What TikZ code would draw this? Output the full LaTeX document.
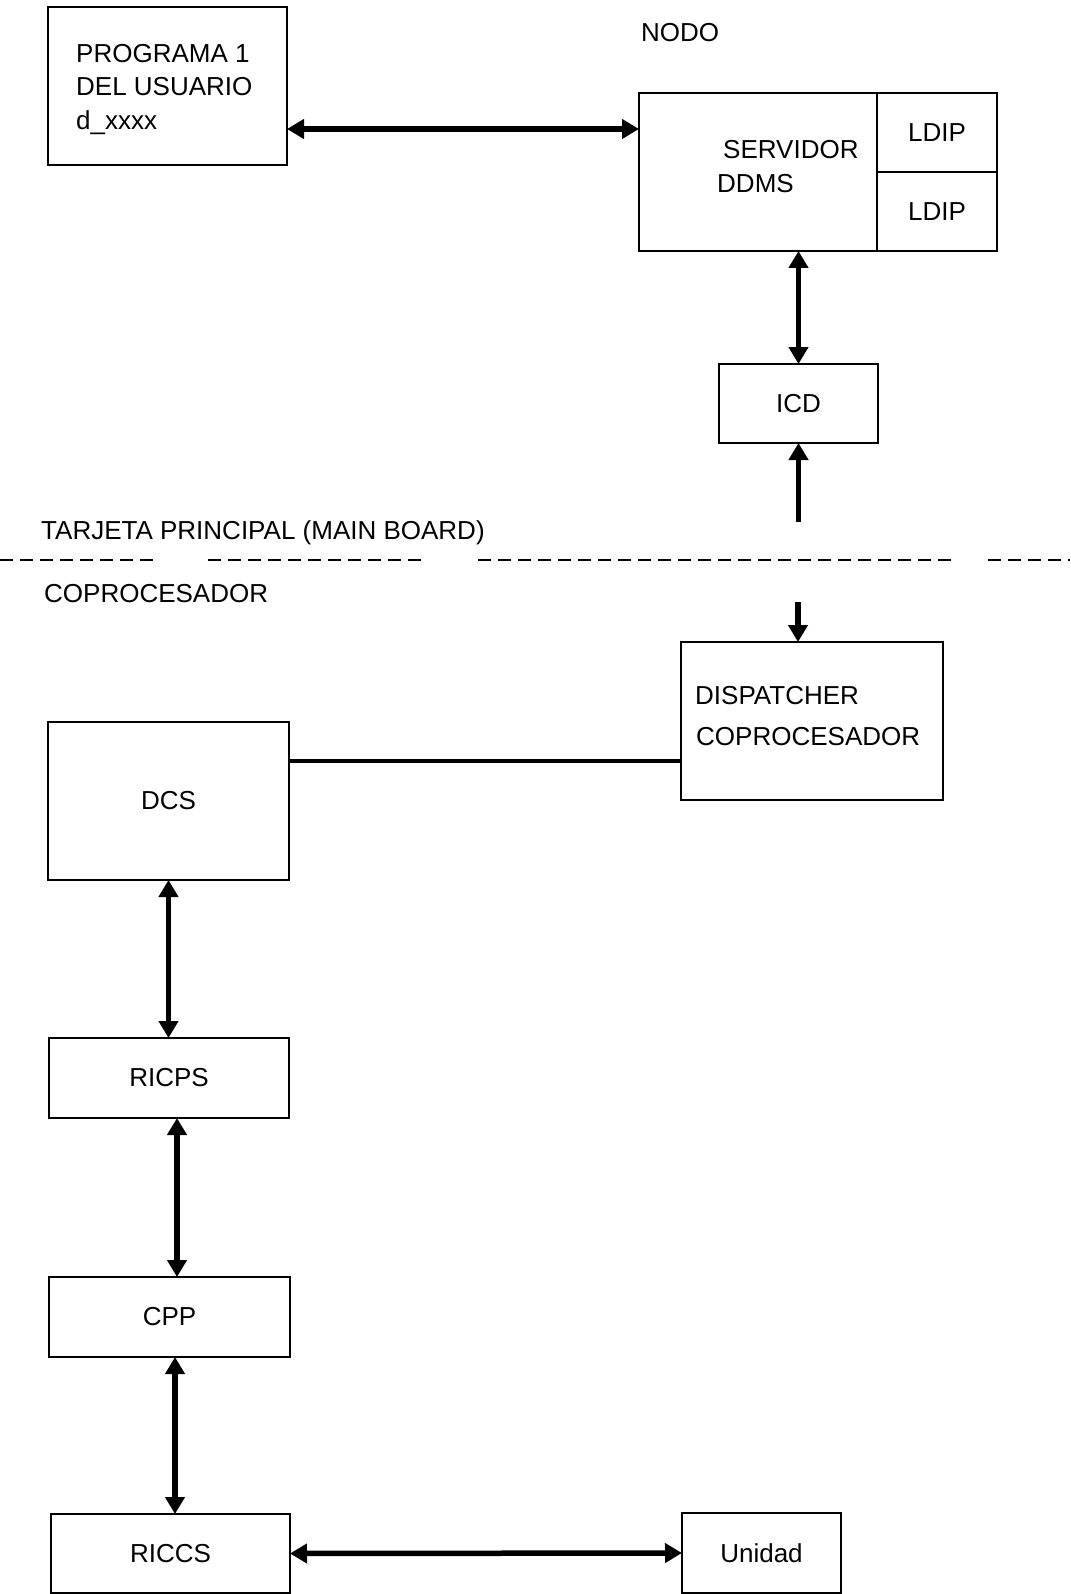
\documentclass[tikz,border=0pt]{standalone}
\usepackage{fontspec}
\setmainfont{Liberation Sans}
\usetikzlibrary{arrows.meta}
\begin{document}
\begin{tikzpicture}[x=1pt, y=-1pt,
  font=\fontsize{26}{31}\selectfont,
  box/.style={draw, line width=1.6pt, inner sep=0pt, outer sep=0pt},
  label/.style={inner sep=0pt, anchor=base west},
  flow/.style={line width=5.5pt, -{Triangle[length=17pt,width=19pt]}},
  biflow/.style={line width=5.5pt, {Triangle[length=17pt,width=19pt]}-{Triangle[length=17pt,width=19pt]}},
  plainlink/.style={line width=4.5pt},
  boundary/.style={line width=2pt, dash pattern=on 13pt off 7pt}]
\useasboundingbox (0,0) rectangle (1070,1594);

% ---- node (upper half) ----
\node[box, minimum width=239pt, minimum height=158pt] (prog) at (167.5,86) {};
\node[label] (progA) at (76,63) {PROGRAMA 1};
\node[label] (progB) at (76,96) {DEL USUARIO};
\node[label] (progC) at (76,130) {d\_xxxx};

\node[inner sep=0pt] (nodo) at (680,33) {NODO};

\node[box, minimum width=238pt, minimum height=158pt] (srv) at (758,172) {};
\node[label] (srvA) at (723,159) {SERVIDOR};
\node[label] (srvB) at (717,193) {DDMS};
\node[box, minimum width=120pt, minimum height=79pt] (ldipA) at (937,132.5) {LDIP};
\node[box, minimum width=120pt, minimum height=79pt] (ldipB) at (937,211.5) {LDIP};

\node[box, minimum width=159pt, minimum height=79pt] (icd) at (798.5,403.5) {ICD};

% ---- board boundary ----
\node[label] (tarjeta) at (41,539) {TARJETA PRINCIPAL (MAIN BOARD)};
\draw[boundary] (0,560) -- (155,560);
\draw[boundary] (208,560) -- (427,560);
\draw[boundary] (478,560) -- (955,560);
\draw[boundary] (988,560) -- (1070,560);
\node[label] (copro) at (44,602) {COPROCESADOR};

% ---- coprocessor (lower half) ----
\node[box, minimum width=262pt, minimum height=158pt] (disp) at (812,721) {};
\node[label] (dispA) at (695,704) {DISPATCHER};
\node[label] (dispB) at (696,745) {COPROCESADOR};

\node[box, minimum width=241pt, minimum height=158pt] (dcs) at (168.5,801) {DCS};
\node[box, minimum width=240pt, minimum height=80pt] (ricps) at (169,1078) {RICPS};
\node[box, minimum width=241pt, minimum height=80pt] (cpp) at (169.5,1317) {CPP};
\node[box, minimum width=239pt, minimum height=79pt] (riccs) at (170.5,1553.5) {RICCS};
\node[box, minimum width=159pt, minimum height=80pt] (unidad) at (761.5,1553) {Unidad};

% ---- connector anchor points ----
\coordinate (topY) at (0,129);
\coordinate (icdIn) at (798.5,522);
\coordinate (dispIn) at (798,602);
\coordinate (busY) at (0,761);
\coordinate (linkB) at (177,0);
\coordinate (linkC) at (175,0);

% ---- connectors ----
\draw[biflow] (prog.east |- topY) -- (srv.west |- topY);
\draw[biflow] (icd.north |- srv.south) -- (icd.north);
\draw[flow] (icdIn) -- (icd.south);
\draw[flow] (dispIn) -- (dispIn |- disp.north);
\draw[plainlink] (dcs.east |- busY) -- (disp.west |- busY);
\draw[biflow] (dcs.south) -- (dcs.south |- ricps.north);
\draw[biflow] (linkB |- ricps.south) -- (linkB |- cpp.north);
\draw[biflow] (linkC |- cpp.south) -- (linkC |- riccs.north);
\draw[biflow] (riccs.east) -- (unidad.west);
\end{tikzpicture}
\end{document}
